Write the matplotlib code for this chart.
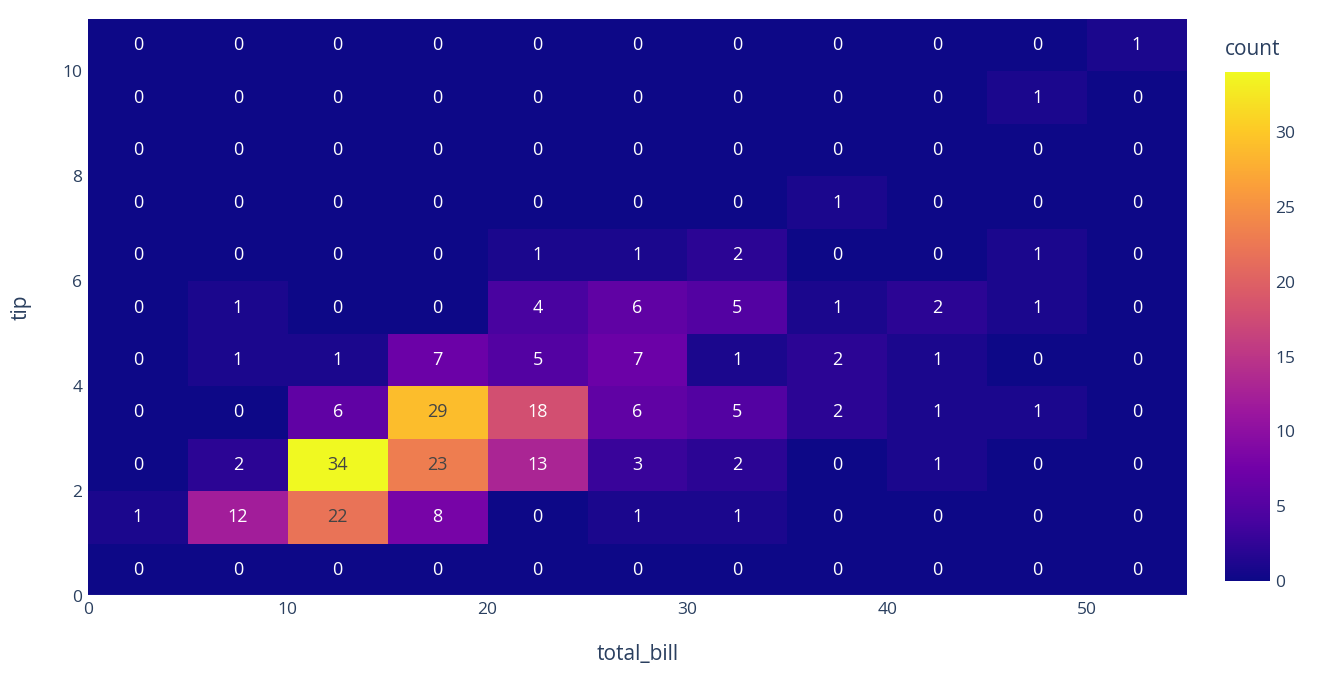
import numpy as np
import matplotlib.pyplot as plt
from matplotlib.colors import LinearSegmentedColormap

# histogram bins (total_bill x tip)
x_edges = [0, 5, 10, 15, 20, 25, 30, 35, 40, 45, 50, 55]
y_edges = [0, 1, 2, 3, 4, 5, 6, 7, 8, 9, 10, 11]

# counts, one row per tip bin from bottom (0-1) to top (10-11)
counts = [
    [0, 0, 0, 0, 0, 0, 0, 0, 0, 0, 0],
    [1, 12, 22, 8, 0, 1, 1, 0, 0, 0, 0],
    [0, 2, 34, 23, 13, 3, 2, 0, 1, 0, 0],
    [0, 0, 6, 29, 18, 6, 5, 2, 1, 1, 0],
    [0, 1, 1, 7, 5, 7, 1, 2, 1, 0, 0],
    [0, 1, 0, 0, 4, 6, 5, 1, 2, 1, 0],
    [0, 0, 0, 0, 1, 1, 2, 0, 0, 1, 0],
    [0, 0, 0, 0, 0, 0, 0, 1, 0, 0, 0],
    [0, 0, 0, 0, 0, 0, 0, 0, 0, 0, 0],
    [0, 0, 0, 0, 0, 0, 0, 0, 0, 1, 0],
    [0, 0, 0, 0, 0, 0, 0, 0, 0, 0, 1],
]

x_ticks = [0, 10, 20, 30, 40, 50]
y_ticks = [0, 2, 4, 6, 8, 10]
cbar_ticks = [0, 5, 10, 15, 20, 25, 30]

# plotly's Plasma scale
plasma = ['#0d0887', '#46039f', '#7201a8', '#9c179e', '#bd3786',
          '#d8576b', '#ed7953', '#fb9f3a', '#fdca26', '#f0f921']
cmap = LinearSegmentedColormap.from_list('plotly_plasma', plasma)

txt_col = '#2a3f5f'
plt.rcParams['font.family'] = ['Open Sans', 'DejaVu Sans']

fig = plt.figure(figsize=(13.35, 6.82), dpi=100)
ax = fig.add_axes([0.0659, 0.1261, 0.8232, 0.8460])
cax = fig.add_axes([0.9176, 0.148, 0.0337, 0.7463])

z = np.array(counts)
vmax = z.max()
mesh = ax.pcolormesh(x_edges, y_edges, z, cmap=cmap, vmin=0, vmax=vmax)

# cell labels, dark text on bright cells
for i in range(len(y_edges) - 1):
    for j in range(len(x_edges) - 1):
        v = z[i, j]
        r, g, b, _ = cmap(v / vmax)
        lum = 0.299 * r + 0.587 * g + 0.114 * b
        col = '#444444' if lum > 0.55 else 'white'
        xc = (x_edges[j] + x_edges[j + 1]) / 2
        yc = (y_edges[i] + y_edges[i + 1]) / 2
        ax.text(xc, yc, str(v), ha='center', va='center', color=col, fontsize=13)

ax.set_xlim(0, 55)
ax.set_ylim(0, 11)
ax.set_xticks(x_ticks)
ax.set_yticks(y_ticks)
ax.tick_params(length=0, labelsize=12.5, colors=txt_col, pad=4)
for s in ax.spines.values():
    s.set_visible(False)
ax.axhline(0, color='white', lw=1.5)
ax.set_xlabel('total_bill', fontsize=15, color=txt_col, labelpad=19)
ax.set_ylabel('tip', fontsize=15, color=txt_col, labelpad=22)

cb = fig.colorbar(mesh, cax=cax, ticks=cbar_ticks)
cb.outline.set_visible(False)
cb.ax.tick_params(length=0, labelsize=12.5, colors=txt_col, pad=4)
cax.set_title('count', fontsize=15, color=txt_col, loc='left', pad=12)

fig.savefig('out.png', dpi=100, facecolor='white')
